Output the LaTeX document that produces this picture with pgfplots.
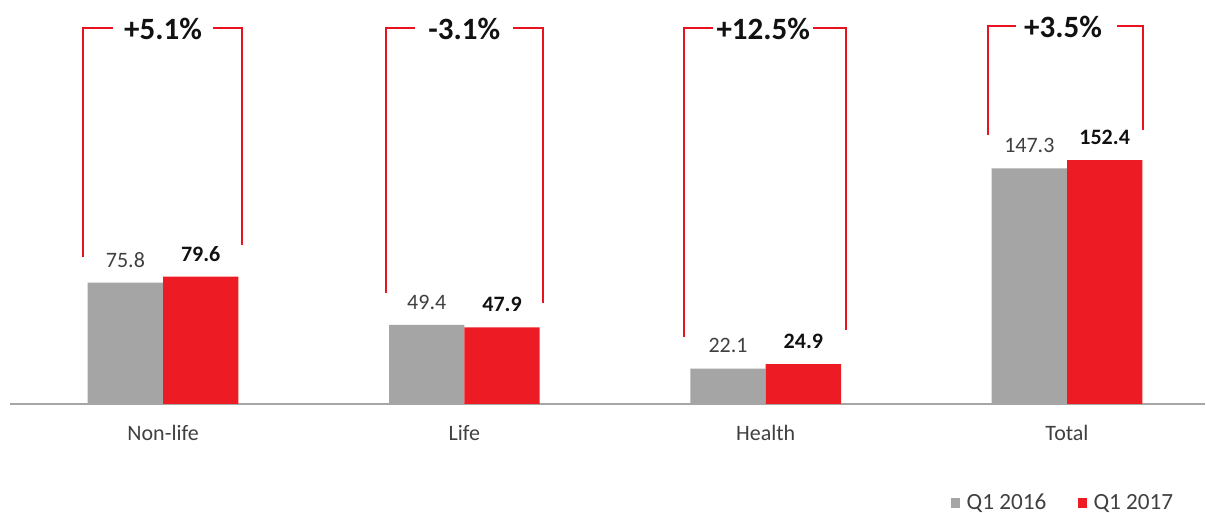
\documentclass[border=0pt]{standalone}
\usepackage{pgfplots}
\pgfplotsset{compat=1.18}
\usepackage{fontspec}
\setmainfont{Carlito}
\definecolor{cgrey}{HTML}{A5A5A5}
\definecolor{cred}{HTML}{ED1C24}
\definecolor{bred}{HTML}{E8131F}
\definecolor{axgrey}{HTML}{A6A6A6}
\definecolor{txt}{HTML}{404040}
\definecolor{dark}{HTML}{111111}
\begin{document}
\begin{tikzpicture}
\useasboundingbox (-5pt,-54.5pt) rectangle (598pt,202pt);
\begin{axis}[
  at={(0pt,0pt)}, anchor=south west,
  scale only axis, width=597.5pt, height=202pt,
  xmin=-0.508, xmax=3.458, ymin=0, ymax=252.5,
  ybar, bar width=0.25,
  axis x line=bottom, axis y line=none,
  axis line style={-, draw=axgrey, line width=0.75pt},
  xtick={0,1,2,3}, xticklabels={Non-life,Life,Health,Total},
  major tick length=0pt,
  xticklabel style={anchor=center, yshift=-14.5pt, font=\fontsize{11}{13}\selectfont, text=txt},
  clip=false,
  nodes near coords,
  /pgf/number format/.cd, fixed, fixed zerofill, precision=1, assume math mode=true, /pgfplots/.cd,
  every node near coord/.append style={anchor=center, yshift=11.5pt, font=\fontsize{11}{13}\selectfont},
  legend columns=2,
  legend style={at={(0.7875,-0.245)}, anchor=west, draw=none, fill=none, inner sep=0pt,
    nodes={inner sep=1pt},
    font=\fontsize{11.6}{13}\selectfont, text=txt,
    /tikz/every odd column/.append style={column sep=2.2pt},
    /tikz/every even column/.append style={column sep=15pt}},
  legend image code/.code={\path[#1,draw=none] (0pt,-2.3pt) rectangle (4.4pt,2.3pt);},
]
\addplot[fill=cgrey, draw=none, bar shift=-0.125, every node near coord/.append style={text=txt}]
  coordinates {(0,75.8) (1,49.4) (2,22.1) (3,147.3)};
\addplot[fill=cred, draw=none, bar shift=0.125, every node near coord/.append style={text=dark, font=\fontsize{11}{13}\selectfont\bfseries}]
  coordinates {(0,79.6) (1,47.9) (2,24.9) (3,152.4)};
\legend{Q1 2016, Q1 2017}
% brackets
\draw[bred, line width=1pt] (axis cs:-0.2655,91.9) -- (axis cs:-0.2655,235) -- (axis cs:-0.166,235);
\draw[bred, line width=1pt] (axis cs:0.166,235) -- (axis cs:0.262,235) -- (axis cs:0.262,99.4);
\draw[bred, line width=1pt] (axis cs:0.740,69.4) -- (axis cs:0.740,235) -- (axis cs:0.836,235);
\draw[bred, line width=1pt] (axis cs:1.162,235) -- (axis cs:1.261,235) -- (axis cs:1.261,63.1);
\draw[bred, line width=1pt] (axis cs:1.729,41.9) -- (axis cs:1.729,235) -- (axis cs:1.825,235);
\draw[bred, line width=1pt] (axis cs:2.157,235) -- (axis cs:2.267,235) -- (axis cs:2.267,46.3);
\draw[bred, line width=1pt] (axis cs:2.738,168.1) -- (axis cs:2.738,236) -- (axis cs:2.831,236);
\draw[bred, line width=1pt] (axis cs:3.166,236) -- (axis cs:3.253,236) -- (axis cs:3.253,171.3);
\node[font=\fontsize{15.5}{18}\selectfont\bfseries, text=dark] at (axis cs:0,234.5) {+5.1\%};
\node[font=\fontsize{15.5}{18}\selectfont\bfseries, text=dark] at (axis cs:1,234.5) {-3.1\%};
\node[font=\fontsize{15.5}{18}\selectfont\bfseries, text=dark] at (axis cs:1.992,234.5) {+12.5\%};
\node[font=\fontsize{15.5}{18}\selectfont\bfseries, text=dark] at (axis cs:2.987,235.5) {+3.5\%};
\end{axis}
\end{tikzpicture}
\end{document}
